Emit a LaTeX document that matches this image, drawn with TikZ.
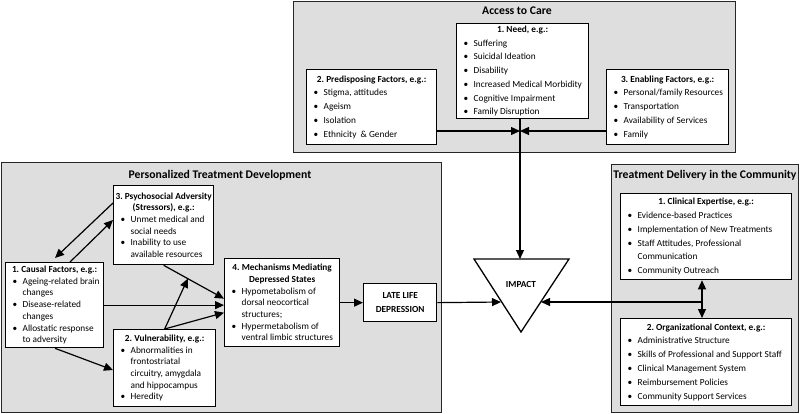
\documentclass[tikz,border=0pt]{standalone}
\usepackage{fontspec}
\setmainfont{Carlito}
\usetikzlibrary{arrows.meta,calc}
\setlength\parskip{0pt}
\frenchspacing
\newcommand\bi[1]{\par\noindent\makebox[13pt][l]{\hspace{3pt}\textbullet}\mbox{#1}}
\newcommand\bc[1]{\par\noindent\hspace*{13pt}\mbox{#1}}
\newcommand\bt[1]{\par\centerline{\bfseries #1}}
\newcommand\content[2]{\parbox{#1}{\setlength\parindent{0pt}#2\par}}
\tikzset{
 panel/.style={draw=black!85, line width=1.3pt, fill=black!13, inner sep=0pt, anchor=north west},
 ptitle/.style={font=\fontsize{11.7}{14}\selectfont\bfseries},
 bx/.style={draw=black, line width=1.3pt, fill=white, anchor=north west, inner xsep=4pt, inner ysep=1.5pt},
 fa/.style={font=\fontsize{9.3}{13.7}\selectfont},
 fp/.style={font=\fontsize{9.3}{11.7}\selectfont},
 ft/.style={font=\fontsize{9.3}{13.8}\selectfont},
 tip/.tip={Triangle[length=9pt,width=8pt]},
 arr/.style={line width=1.2pt, -tip},
 darr/.style={line width=1.2pt, tip-tip},
}
\begin{document}
\begin{tikzpicture}[x=1pt,y=-1pt]
\useasboundingbox (0,0) rectangle (800,414);
% panels
\node[panel, minimum width=442pt, minimum height=151pt] (access) at (293,1) {};
\node[panel, minimum width=440pt, minimum height=250pt] (personal) at (1,162) {};
\node[panel, minimum width=187pt, minimum height=248pt] (delivery) at (611,164) {};
\node[ptitle] (acct) at (517,11) {Access to Care};
\node[ptitle] (pert) at (220,175) {Personalized Treatment Development};
\node[ptitle] (delt) at (705,175) {Treatment Delivery in the Community};
% access boxes
\node[bx, fa, minimum width=132pt, minimum height=95pt] (need) at (456,23)
 {\content{124pt}{\bt{1. Need, e.g.:}\bi{Suffering}\bi{Suicidal Ideation}\bi{Disability}\bi{Increased Medical Morbidity}\bi{Cognitive Impairment}\bi{Family Disruption}}};
\node[bx, fa, minimum width=130pt, minimum height=75pt] (pred) at (306,69)
 {\content{122pt}{\bt{2. Predisposing Factors, e.g.:}\bi{Stigma, attitudes}\bi{Ageism}\bi{Isolation}\bi{Ethnicity\ \ \& Gender}}};
\node[bx, fa, minimum width=122pt, minimum height=75pt] (enab) at (606,69)
 {\content{114pt}{\bt{3. Enabling Factors, e.g.:}\bi{Personal/family Resources}\bi{Transportation}\bi{Availability of Services}\bi{Family}}};
% personalized boxes
\node[bx, fp, minimum width=100pt, minimum height=79pt] (psy) at (113,185)
 {\content{92pt}{\bt{3. Psychosocial Adversity}\bt{(Stressors), e.g.:}\bi{Unmet medical and}\bc{social needs}\bi{Inability to use}\bc{available resources}}};
\node[bx, fp, minimum width=98pt, minimum height=85pt, inner ysep=1pt] (causal) at (5,262)
 {\content{90pt}{\bt{1. Causal Factors, e.g.:}\bi{Ageing-related brain}\bc{changes}\bi{Disease-related}\bc{changes}\bi{Allostatic response}\bc{to adversity}}};
\node[bx, fp, minimum width=102pt, minimum height=77pt] (vul) at (113,329)
 {\content{94pt}{\bt{2. Vulnerability, e.g.:}\bi{Abnormalities in}\bc{frontostriatal}\bc{circuitry, amygdala}\bc{and hippocampus}\bi{Heredity}}};
\node[bx, fp, minimum width=115pt, minimum height=88pt] (mech) at (224,258)
 {\content{107pt}{\bt{4. Mechanisms Mediating}\bt{Depressed States}\bi{Hypometabolism of}\bc{dorsal neocortical}\bc{structures;}\bi{Hypermetabolism of}\bc{ventral limbic structures}}};
\node[bx, align=center, font=\fontsize{9.3}{13.3}\selectfont\bfseries, minimum width=73pt, minimum height=38pt, inner xsep=2pt] (lld) at (363,283)
 {LATE LIFE\\DEPRESSION};
% delivery boxes
\node[bx, ft, minimum width=171pt, minimum height=86pt] (clin) at (620,193)
 {\content{163pt}{\bt{1. Clinical Expertise, e.g.:}\bi{Evidence-based Practices}\bi{Implementation of New Treatments}\bi{Staff Attitudes, Professional}\bc{Communication}\bi{Community Outreach}}};
\node[bx, ft, minimum width=171pt, minimum height=87pt] (org) at (620,318)
 {\content{163pt}{\bt{2. Organizational Context, e.g.:}\bi{Administrative Structure}\bi{Skills of Professional and Support Staff}\bi{Clinical Management System}\bi{Reimbursement Policies}\bi{Community Support Services}}};
% impact triangle
\coordinate (impA) at (474,259);
\coordinate (impB) at (569,259);
\coordinate (impC) at (521,332);
\draw[line width=1.3pt, fill=white] (impA) -- (impB) -- (impC) -- cycle;
\node[font=\fontsize{9.3}{11}\selectfont\bfseries] (impact) at (521,284) {IMPACT};
\coordinate (impT) at (520,259);
\coordinate (impL) at (501,302);
\coordinate (impR) at (541,302);
% junctions
\coordinate (j) at (520,131);
\coordinate (tj) at (702,302);
% access arrows
\draw[arr] (pred.east |- j) -- (j);
\draw[arr] (enab.west |- j) -- (j);
\draw[arr] (need.south -| j) -- (impT);
% to impact
\draw[arr] (lld.east) -- (impL);
\draw[arr] (tj) -- (impR);
\draw[darr] (clin.south -| tj) -- (org.north -| tj);
% personalized arrows
\coordinate (m1) at ([yshift=4pt]mech.west);
\coordinate (m3) at ([yshift=-10pt]mech.west);
\draw[arr] ([yshift=-18pt]psy.north west) -- ([xshift=50pt,yshift=4pt]causal.north west);
\draw[arr] ([xshift=65pt]causal.north west) -- ([yshift=-35pt]psy.north west);
\draw[arr] (psy.south) -- (m1);
\draw[arr] (causal.east) -- (causal.east -| mech.west);
\draw[arr] (vul.north) -- (m3);
\draw[arr] (vul.north) -- ($(psy.south)!0.4!(m1)$);
\draw[arr] ([xshift=50pt]causal.south west) -- ([yshift=-41pt]vul.north west);
\draw[arr] (mech.east) -- (lld.west);
\end{tikzpicture}
\end{document}
